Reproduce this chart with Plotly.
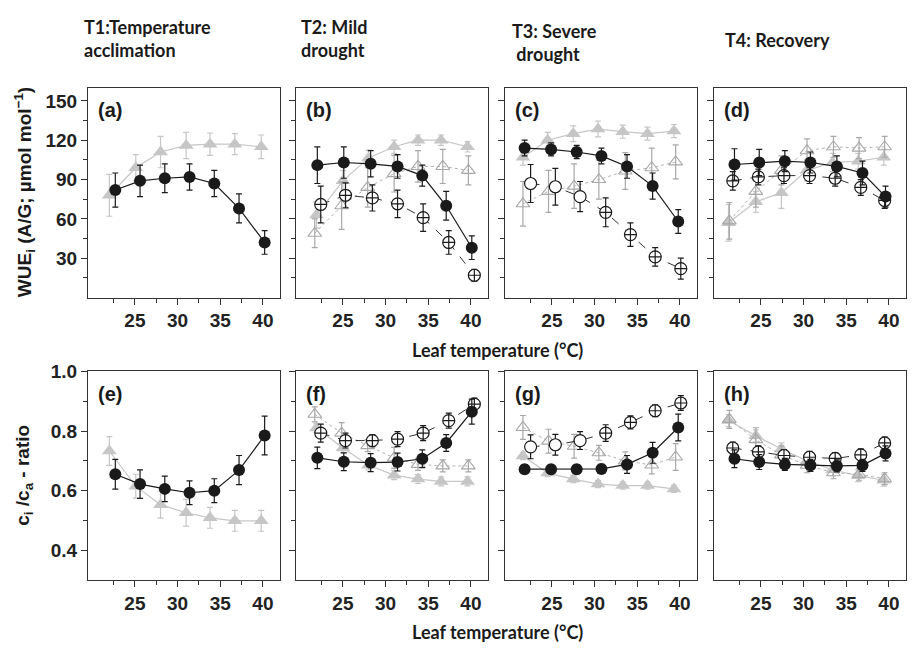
import plotly.graph_objects as go

# ---------------- data ----------------
# leaf temperatures (deg C) per column and series
t1_K_t = [22.7, 25.6, 28.5, 31.4, 34.3, 37.2, 40.2]
t1_GF_t = [22.0, 25.1, 28.0, 31.0, 33.8, 36.7, 39.8]
t2_K_t = [22.0, 25.1, 28.25, 31.4, 34.3, 37.1, 40.1]
t2_O_t = [22.4, 25.3, 28.45, 31.4, 34.4, 37.4, 40.4]
t2_GF_t = [21.9, 25.0, 28.0, 31.0, 33.8, 36.5, 39.6]
t2_GO_t = [21.7, 24.85, 27.9, 31.0, 33.8, 36.7, 39.7]
t3_K_t = [21.8, 24.9, 27.9, 30.8, 33.8, 36.8, 39.8]
t3_O_t = [22.5, 25.4, 28.3, 31.3, 34.2, 37.1, 40.1]
t3_GF_t = [21.6, 24.5, 27.5, 30.4, 33.3, 36.2, 39.3]
t3_GO_t = [21.6, 24.6, 27.6, 30.5, 33.6, 36.7, 39.5]
t4_K_t = [21.9, 24.8, 27.8, 30.8, 33.9, 36.9, 39.6]
t4_O_t = [21.7, 24.7, 27.7, 30.7, 33.7, 36.7, 39.5]
t4_GF_t = [21.2, 24.4, 27.4, 30.4, 33.4, 36.4, 39.4]
t4_GO_t = [21.3, 24.4, 27.4, 30.4, 33.5, 36.5, 39.5]

# WUEi (A/G; umol mol-1)
a_K = [82, 89, 91, 92, 87, 68, 42]
a_K_err = [13, 12, 11, 10, 10, 11, 9]
a_GF = [78, 99, 111, 116, 117, 117, 115]
a_GF_err = [16, 10, 12, 10, 8.5, 8, 9]
b_K = [101, 103, 102, 100, 93, 70, 38]
b_K_err = [14, 12, 10, 9, 8, 11, 9]
b_O = [71, 78, 76, 71.5, 61, 42, 17]
b_O_err = [14, 9.5, 10, 10.5, 10.5, 9, 4.5]
b_GF = [63, 89, 106.5, 115, 120, 120, 115]
b_GF_err = [10, 8, 6, 5, 4, 4, 4]
b_GO = [49, 70, 84, 94.5, 100, 100, 97]
b_GO_err = [11, 18, 15, 14, 12, 13, 11]
c_K = [114, 113, 111, 108, 100, 85, 58]
c_K_err = [6, 5, 5, 6, 9, 10, 9]
c_O = [87, 84.5, 77, 65, 48, 31, 22]
c_O_err = [14.5, 14, 11.5, 11, 9, 7, 8]
c_GF = [107, 120, 125, 128.5, 126.5, 125, 127]
c_GF_err = [6, 6, 6, 6, 5, 5, 5]
c_GO = [71.5, 81, 85, 90, 96.5, 99, 103.5]
c_GO_err = [17, 16, 17, 15, 14, 15, 13]
d_K = [101.5, 103, 104, 103, 100, 95, 77]
d_K_err = [12, 10, 8, 8, 8, 9, 8]
d_O = [89, 92, 93, 93, 91, 84, 74]
d_O_err = [7, 6, 6, 6, 6, 6, 6]
d_GF = [57, 73, 80, 97, 103, 104, 107]
d_GF_err = [14, 8, 12, 8, 7, 6, 6]
d_GO = [58.5, 81, 97, 112, 115, 114, 115]
d_GO_err = [14, 12, 11, 9, 8, 8, 8]

# ci/ca ratio
e_K = [0.655, 0.622, 0.606, 0.593, 0.600, 0.669, 0.785]
e_K_err = [0.05, 0.048, 0.043, 0.04, 0.04, 0.049, 0.065]
e_GF = [0.733, 0.615, 0.553, 0.526, 0.509, 0.499, 0.499]
e_GF_err = [0.048, 0.04, 0.045, 0.045, 0.035, 0.035, 0.035]
f_K = [0.710, 0.697, 0.694, 0.696, 0.707, 0.760, 0.865]
f_K_err = [0.036, 0.03, 0.03, 0.03, 0.03, 0.028, 0.042]
f_O = [0.793, 0.768, 0.768, 0.773, 0.793, 0.835, 0.890]
f_O_err = [0.03, 0.025, 0.02, 0.025, 0.025, 0.025, 0.02]
f_GF = [0.81, 0.743, 0.685, 0.652, 0.639, 0.631, 0.631]
f_GF_err = [0.015, 0.015, 0.015, 0.015, 0.015, 0.015, 0.015]
f_GO = [0.856, 0.793, 0.751, 0.71, 0.688, 0.683, 0.683]
f_GO_err = [0.025, 0.035, 0.02, 0.035, 0.02, 0.02, 0.02]
g_K = [0.672, 0.672, 0.672, 0.673, 0.688, 0.727, 0.812]
g_K_err = [0.015, 0.015, 0.015, 0.015, 0.03, 0.035, 0.045]
g_O = [0.747, 0.754, 0.768, 0.793, 0.829, 0.868, 0.894]
g_O_err = [0.04, 0.035, 0.03, 0.028, 0.022, 0.02, 0.025]
g_GF = [0.716, 0.659, 0.639, 0.622, 0.617, 0.617, 0.606]
g_GF_err = [0.012, 0.012, 0.012, 0.012, 0.012, 0.012, 0.012]
g_GO = [0.812, 0.766, 0.749, 0.727, 0.70, 0.686, 0.713]
g_GO_err = [0.04, 0.04, 0.04, 0.025, 0.03, 0.03, 0.045]
h_K = [0.707, 0.696, 0.688, 0.685, 0.683, 0.685, 0.725]
h_K_err = [0.03, 0.025, 0.02, 0.02, 0.02, 0.02, 0.025]
h_O = [0.743, 0.73, 0.718, 0.712, 0.708, 0.72, 0.76]
h_O_err = [0.02, 0.02, 0.02, 0.02, 0.02, 0.02, 0.02]
h_GF = [0.835, 0.784, 0.74, 0.70, 0.67, 0.65, 0.635]
h_GF_err = [0.02, 0.02, 0.02, 0.02, 0.02, 0.02, 0.02]
h_GO = [0.839, 0.771, 0.72, 0.685, 0.66, 0.655, 0.64]
h_GO_err = [0.03, 0.04, 0.03, 0.025, 0.02, 0.02, 0.02]

col_titles = ["T1:Temperature<br>acclimation", "T2: Mild<br>drought",
              "T3: Severe<br> drought", "T4: Recovery"]
panel_labels = ["(a)", "(b)", "(c)", "(d)", "(e)", "(f)", "(g)", "(h)"]
x_ticks = [25, 30, 35, 40]
x_minor = [22.5, 27.5, 32.5, 37.5]
wue_ticks = [30, 60, 90, 120, 150]
wue_minor = [15, 45, 75, 105, 135]
ci_ticks = [0.4, 0.6, 0.8, 1.0]
ci_minor = [0.5, 0.7, 0.9]

# ---------------- layout geometry ----------------
W, H = 914, 653
col_px = [(88, 280), (296, 488), (505, 697), (714, 906)]
row_px = [(79, 292), (367, 579)]

BLACK = "#1a1a1a"
GRAY = "#c6c6c6"
GRAY_O = "#a8a8a8"

fig = go.Figure()


def add_series(ax, t, v, e, kind, plain_first=0):
    xa = "x" if ax == 1 else f"x{ax}"
    ya = "y" if ax == 1 else f"y{ax}"
    if kind == "K":
        marker = dict(symbol="circle", size=12, color=BLACK, line=dict(width=0))
        line = dict(color=BLACK, width=1.2)
        ec = BLACK
    elif kind == "O":
        syms = ["circle"] * plain_first + ["circle-cross"] * (len(t) - plain_first)
        marker = dict(symbol=syms, size=12, color="white", line=dict(width=1.2, color=BLACK))
        line = dict(color=BLACK, width=0.9, dash="dash")
        ec = BLACK
    elif kind == "GF":
        marker = dict(symbol="triangle-up", size=13, color=GRAY, line=dict(width=0))
        line = dict(color=GRAY, width=1.2)
        ec = GRAY
    else:
        marker = dict(symbol="triangle-up-open", size=12, color=GRAY_O, line=dict(width=1.1))
        line = dict(color=GRAY_O, width=0.9, dash="dot")
        ec = GRAY_O
    fig.add_trace(go.Scatter(
        x=t, y=v, mode="lines+markers", xaxis=xa, yaxis=ya,
        marker=marker, line=line, showlegend=False,
        error_y=dict(type="data", array=e, visible=True, color=ec, thickness=1.2, width=3),
    ))


panels = [
    (1, [(t1_GF_t, a_GF, a_GF_err, "GF"), (t1_K_t, a_K, a_K_err, "K")]),
    (2, [(t2_GF_t, b_GF, b_GF_err, "GF"), (t2_GO_t, b_GO, b_GO_err, "GO"),
         (t2_O_t, b_O, b_O_err, "O"), (t2_K_t, b_K, b_K_err, "K")]),
    (3, [(t3_GF_t, c_GF, c_GF_err, "GF"), (t3_GO_t, c_GO, c_GO_err, "GO"),
         (t3_O_t, c_O, c_O_err, "O"), (t3_K_t, c_K, c_K_err, "K")]),
    (4, [(t4_GF_t, d_GF, d_GF_err, "GF"), (t4_GO_t, d_GO, d_GO_err, "GO"),
         (t4_O_t, d_O, d_O_err, "O"), (t4_K_t, d_K, d_K_err, "K")]),
    (5, [(t1_GF_t, e_GF, e_GF_err, "GF"), (t1_K_t, e_K, e_K_err, "K")]),
    (6, [(t2_GF_t, f_GF, f_GF_err, "GF"), (t2_GO_t, f_GO, f_GO_err, "GO"),
         (t2_O_t, f_O, f_O_err, "O"), (t2_K_t, f_K, f_K_err, "K")]),
    (7, [(t3_GF_t, g_GF, g_GF_err, "GF"), (t3_GO_t, g_GO, g_GO_err, "GO"),
         (t3_O_t, g_O, g_O_err, "O"), (t3_K_t, g_K, g_K_err, "K")]),
    (8, [(t4_GF_t, h_GF, h_GF_err, "GF"), (t4_GO_t, h_GO, h_GO_err, "GO"),
         (t4_O_t, h_O, h_O_err, "O"), (t4_K_t, h_K, h_K_err, "K")]),
]
for ax, series in panels:
    for t, v, e, k in series:
        add_series(ax, t, v, e, k, plain_first=(3 if ax in (3, 7) else 0))

TICKFONT = dict(family="Liberation Sans, Arial, sans-serif", size=19, color="#222", weight="bold")
layout = dict(width=W, height=H, margin=dict(l=0, r=0, t=0, b=0),
              plot_bgcolor="white", paper_bgcolor="white", showlegend=False)

annotations = []
for i in range(8):
    r, c = divmod(i, 4)
    ax = i + 1
    x0, x1 = col_px[c]
    y0, y1 = row_px[r]
    xk = "xaxis" if ax == 1 else f"xaxis{ax}"
    yk = "yaxis" if ax == 1 else f"yaxis{ax}"
    layout[xk] = dict(
        domain=[x0 / W, x1 / W], range=[19.5, 42], anchor=("y" if ax == 1 else f"y{ax}"),
        tickvals=x_ticks, ticks="outside", ticklen=6, tickwidth=1, tickcolor="#333",
        showline=True, linecolor="#333", linewidth=1.2, mirror=True, showgrid=False,
        zeroline=False, tickfont=TICKFONT,
        minor=dict(tickvals=x_minor, ticks="outside", ticklen=4, tickcolor="#333"),
    )
    if r == 0:
        yr, tv, mv = [0, 160], wue_ticks, wue_minor
    else:
        yr, tv, mv = [0.3, 1.0], ci_ticks, ci_minor
    yax = dict(
        domain=[1 - y1 / H, 1 - y0 / H], range=yr, anchor=("x" if ax == 1 else f"x{ax}"),
        tickvals=tv, ticks="outside", ticklen=6, tickwidth=1, tickcolor="#333",
        showline=True, linecolor="#333", linewidth=1.2, mirror=True, showgrid=False,
        zeroline=False, tickfont=TICKFONT, showticklabels=(c == 0),
        minor=dict(tickvals=mv, ticks="outside", ticklen=4, tickcolor="#333"),
    )
    if c == 0:
        yax["ticktext"] = [("%.1f" % t) if r == 1 else str(t) for t in tv]
    layout[yk] = yax
    annotations.append(dict(
        text="<b>%s</b>" % panel_labels[i], xref="paper", yref="paper",
        x=(x0 + 8) / W, y=1 - (y0 + 23) / H, xanchor="left", yanchor="middle",
        showarrow=False, font=dict(family="Liberation Sans, Arial, sans-serif", size=20, color="#1a1a1a"),
    ))

TITLEFONT = dict(family="Lato, Carlito, sans-serif", size=18, color="#1a1a1a")
title_pos = [(82, 29), (299, 29), (510, 33), (723, 30)]
for txt, (tx, ty) in zip(col_titles, title_pos):
    annotations.append(dict(text="<b>%s</b>" % txt, xref="paper", yref="paper",
                            x=tx / W, y=1 - ty / H, xanchor="left", yanchor="middle",
                            align="left", showarrow=False, font=TITLEFONT))

for ty in (345, 632):
    annotations.append(dict(text="<b>Leaf temperature (°C)</b>", xref="paper", yref="paper",
                            x=497 / W, y=1 - ty / H, xanchor="center", yanchor="middle",
                            showarrow=False, font=TITLEFONT))

YFONT = dict(family="Liberation Sans, Arial, sans-serif", size=19, color="#1a1a1a")
annotations.append(dict(text="<b>WUE<sub>i</sub> (A/G; µmol mol<sup>−1</sup>)</b>",
                        xref="paper", yref="paper", x=24 / W, y=1 - 185 / H,
                        xanchor="center", yanchor="middle", textangle=-90,
                        showarrow=False, font=YFONT))
annotations.append(dict(text="<b>c<sub>i</sub> /c<sub>a</sub> - ratio</b>",
                        xref="paper", yref="paper", x=24 / W, y=1 - 473 / H,
                        xanchor="center", yanchor="middle", textangle=-90,
                        showarrow=False, font=YFONT))

layout["annotations"] = annotations
fig.update_layout(**layout)
fig.write_html("out.html")
